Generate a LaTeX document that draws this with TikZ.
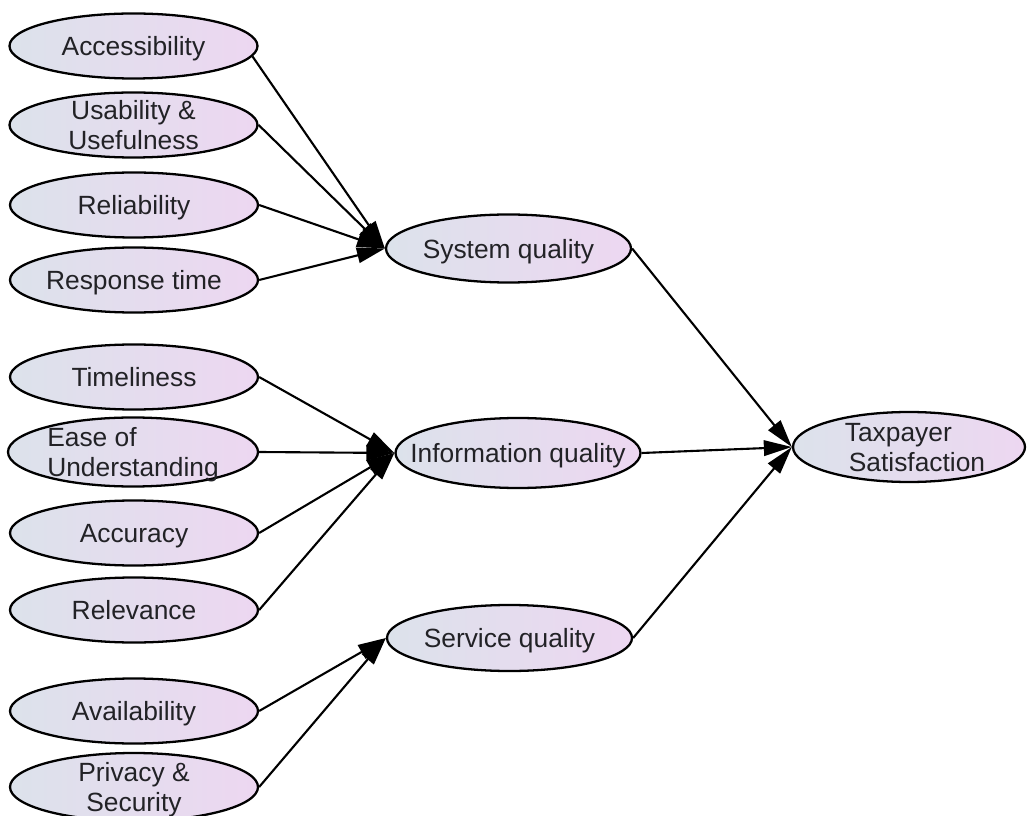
\documentclass[tikz,border=0pt]{standalone}
\usepackage{fontspec}
\setmainfont{Liberation Sans}
\usetikzlibrary{arrows.meta, shapes.geometric}

\definecolor{shadeleft}{RGB}{220,226,235}
\definecolor{shaderight}{RGB}{237,215,241}
\definecolor{labelgray}{RGB}{34,34,38}

% text set on its own, so the ellipse keeps the size given by its style
\newcommand{\elltxt}[2][c]{\raisebox{-0.38em}[0pt][0pt]{\makebox[0pt]{\begin{tabular}{@{}#1@{}}#2\end{tabular}}}}

\begin{document}
\begin{tikzpicture}[
    >={Triangle[length=5.6mm, width=3.1mm]},
    % Styles for the ellipses
    factor/.style={draw=black, ellipse, line width=1.3pt, left color=shadeleft, right color=shaderight, minimum width=4.96cm, minimum height=1.3cm, inner sep=0pt, text=labelgray, font=\fontsize{15}{17}\selectfont},
    dimension/.style={factor, minimum width=4.9cm, minimum height=1.36cm},
    outcome/.style={factor, minimum width=4.64cm, minimum height=1.4cm},
    % Arrow style
    link/.style={->, line width=1.2pt, draw=black}
]

    \useasboundingbox (0, 0) rectangle (20.56, -16.32);

    % ==================== Indicators (LEFT COLUMN) ====================
    \node (access) [factor] at (2.67, -0.92) {\elltxt{Accessibility}};
    \node (usab) [factor] at (2.67, -2.50) {\elltxt{Usability \&\\Usefulness}};
    \node (reliab) [factor] at (2.68, -4.10) {\elltxt{Reliability}};
    \node (resp_time) [factor] at (2.68, -5.60) {\elltxt{Response time}};

    \node (timeli) [factor] at (2.68, -7.54) {\elltxt{Timeliness}};
    \node (ease_und) [factor, minimum width=5.0cm, minimum height=1.38cm] at (2.66, -9.04) {\elltxt[l]{Ease of\\Understanding}};
    \node (accur) [factor] at (2.68, -10.66) {\elltxt{Accuracy}};
    \node (relev) [factor] at (2.68, -12.20) {\elltxt{Relevance}};

    \node (avail) [factor] at (2.68, -14.22) {\elltxt{Availability}};
    \node (priv_sec) [factor, minimum height=1.36cm] at (2.68, -15.74) {\elltxt{Privacy \&\\Security}};

    % ==================== Dimensions (MIDDLE COLUMN) ====================
    \node (sys_q) [dimension] at (10.17, -4.97) {\elltxt{System quality}};
    \node (info_q) [dimension, minimum height=1.4cm] at (10.36, -9.06) {\elltxt{Information quality}};
    \node (serv_q) [dimension, minimum height=1.32cm] at (10.19, -12.76) {\elltxt{Service quality}};

    % ==================== Outcome (RIGHT) ====================
    % text sits a little right of the centre, as in the source
    \node (tax_sat) [outcome] at (18.18, -8.94) {\hspace{0.24cm}\elltxt[l]{Taxpayer\\\hspace{0.08cm}Satisfaction}};

    % Arrows into System quality
    \draw [link] (access.-5) -- (sys_q.west);
    \draw [link] (usab.east) -- (sys_q.west);
    \draw [link] (reliab.east) -- (sys_q.west);
    \draw [link] (resp_time.east) -- (sys_q.west);

    % Arrows into Information quality
    \draw [link] (timeli.east) -- (info_q.west);
    \draw [link] (ease_und.east) -- (info_q.west);
    \draw [link] (accur.east) -- (info_q.west);
    \draw [link] (relev.east) -- (info_q.west);

    % Arrows into Service quality
    \draw [link] (avail.east) -- (serv_q.west);
    \draw [link] (priv_sec.east) -- (serv_q.west);

    % Dimensions into the outcome
    \draw [link] (sys_q.east) -- (tax_sat.west);
    \draw [link] (info_q.east) -- (tax_sat.west);
    \draw [link] (serv_q.east) -- (tax_sat.west);

\end{tikzpicture}
\end{document}
